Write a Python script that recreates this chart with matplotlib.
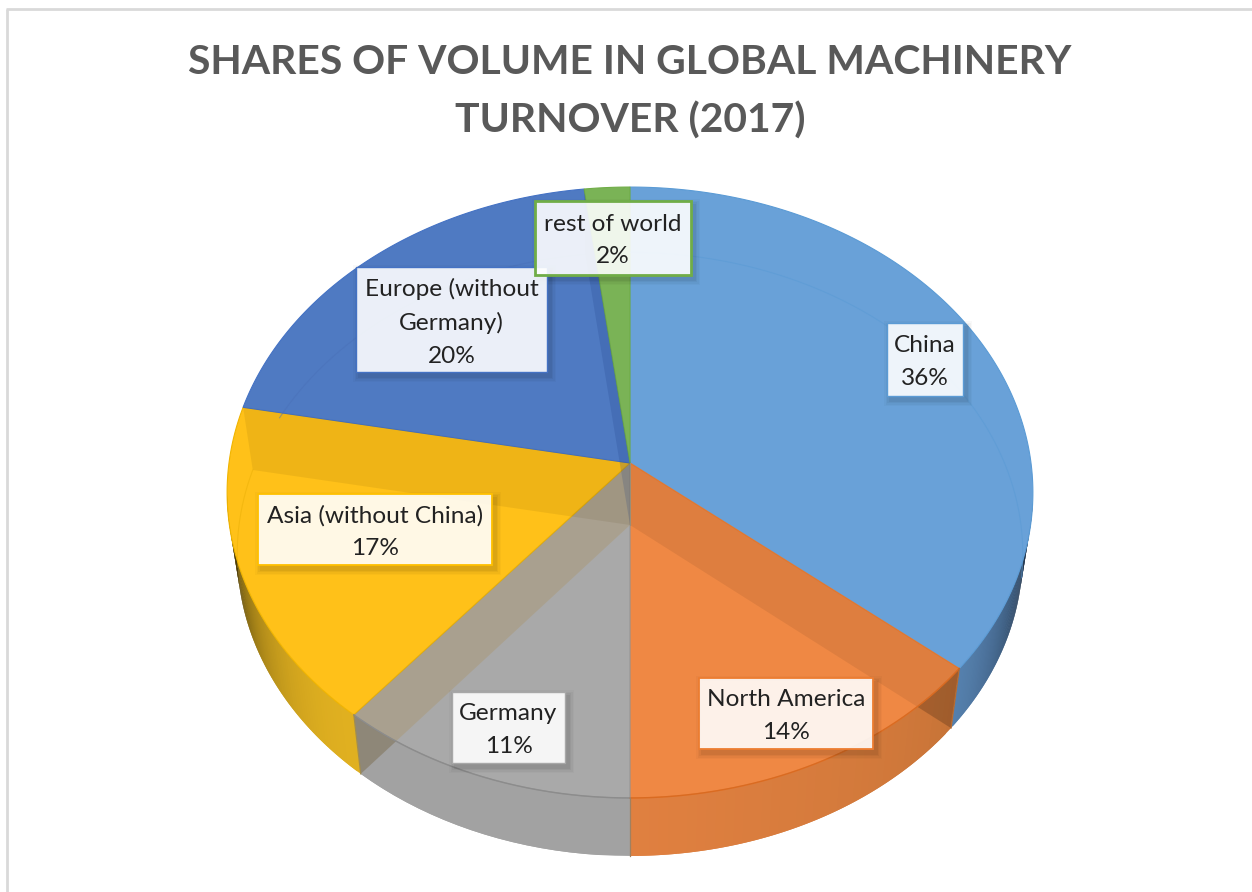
import numpy as np
import matplotlib
matplotlib.use("Agg")
import matplotlib.pyplot as plt
from matplotlib.patches import Polygon, Rectangle, PathPatch
from matplotlib.path import Path
from matplotlib.colors import to_rgb

title_text = "SHARES OF VOLUME IN GLOBAL MACHINERY\nTURNOVER (2017)"
names = ["China", "North America", "Germany", "Asia (without China)", "Europe (without\nGermany)", "rest of world"]
shares = [36, 14, 11, 17, 20, 2]
top_colors = ["#69A1D8", "#EF8844", "#A9A9A9", "#FFC119", "#4F7AC2", "#7AB356"]
edge_colors = ["#5B9BD5", "#ED7D31", "#A8A8A8", "#FFC000", "#4472C4", "#70AD47"]
wedge_edges = ["#5B9BD5", "#ED7D31", "#979797", "#F0B400", "#4472C4", "#70AD47"]

# label-box geometry in pixels: left, right, top, bottom
boxes = [(887, 963, 323, 396), (699, 873, 678, 749), (452, 565, 692, 763),
         (258, 492, 494, 565), (356, 547, 267, 372), (535, 691, 201, 275)]
box_lw = [1.0, 1.3, 1.0, 1.3, 1.0, 2.0]

plt.rcParams['font.family'] = ['Lato', 'DejaVu Sans']
fig = plt.figure(figsize=(12.52, 8.92), dpi=100)
ax = fig.add_axes([0, 0, 1, 1])
ax.set_xlim(0, 1252)
ax.set_ylim(892, 0)
ax.axis('off')

K, A, B = -0.0966, 401.0, 302.6
TOP = (630.0, 463.0, 1.0, 1.0)
LOW = (630.0, 525.0, 0.975, 0.988)


def proj(deg, level):
    cx, cy, sx, sy = level
    t = np.radians(deg)
    u, v = np.sin(t), np.cos(t)
    d = 1 - K * v
    return cx + sx * A * u / d, cy - sy * B * v / d


def arc(a, b, level, n=160):
    x, y = proj(np.linspace(a, b, n), level)
    return np.column_stack([x, y])


def mix(c1, c2, f):
    c1, c2 = np.array(to_rgb(c1)), np.array(to_rgb(c2))
    return tuple(c1 + (c2 - c1) * f)


edges = np.concatenate([[0], np.cumsum(shares)]) * 3.6
apex = np.array([TOP[0], TOP[1]])
low_apex = np.array([LOW[0], LOW[1]])

# outer frame
ax.plot([7, 7], [892, 9], color="#D9D9D9", lw=2.0, solid_capstyle='butt')
ax.plot([6, 1252], [9, 9], color="#D9D9D9", lw=2.0, solid_capstyle='butt')


def side_strip(a, b, c1, c2, n=70, gamma=1.0):
    ts = np.linspace(a, b, n + 1)
    for i in range(n):
        f = ((i + .5) / n) ** gamma
        end = ts[min(i + 2, n)]
        poly = np.vstack([arc(ts[i], end, TOP, 5), arc(end, ts[i], LOW, 5)])
        ax.add_patch(Polygon(poly, closed=True, fc=mix(c1, c2, f), ec='none', zorder=1))


# visible outer walls
side_strip(edges[1], 98, "#5580AD", "#1F2E42", gamma=1.3)
side_strip(edges[1], edges[2], "#C47236", "#E08040", n=40, gamma=.6)
side_strip(edges[2], edges[3], "#A2A2A2", "#A2A2A2", n=10)
side_strip(edges[3], 264, "#E0B020", "#2E2608", gamma=2.0)

# top faces
for i, c in enumerate(top_colors):
    poly = np.vstack([apex, arc(edges[i], edges[i + 1], TOP)])
    ax.add_patch(Polygon(poly, closed=True, fc=c, ec=wedge_edges[i], lw=0.8, zorder=2))

front = np.vstack([arc(edges[1], edges[3], TOP), arc(edges[3], edges[1], LOW)])

# inner radial walls seen through the surface
walls = [(1, "#000000", .07), (3, "#A9905A", .32), (4, "#4A3000", .085), (5, "#1A3A80", .18)]
for idx, col, alpha in walls:
    t = edges[idx]
    poly = np.vstack([apex, np.array(proj(t, TOP)), np.array(proj(t, LOW)), low_apex])
    ax.add_patch(Polygon(poly, closed=True, fc=col, ec='none', alpha=alpha, zorder=3))
    if idx in (1, 3):
        over = Polygon(poly, closed=True, fc='#000000', ec='none', alpha=.13, zorder=3.1)
        ax.add_patch(over)
        over.set_clip_path(Polygon(front, closed=True, transform=ax.transData))

# faint rim of the lower surface through the top
for a, b, c, al in [(0, 100, "#5B9BD5", .6), (edges[4], 262, "#E0A800", .35), (edges[4] + 11, edges[5], "#4A70B8", .5)]:
    xy = arc(a, b, LOW)
    ax.plot(xy[:, 0], xy[:, 1], color=c, lw=0.8, alpha=al, zorder=3.2)

# front rim of the top surface and vertical seams
for i, c in [(1, "#D96B22"), (2, "#8C8C8C")]:
    xy = arc(edges[i], edges[i + 1], TOP)
    ax.plot(xy[:, 0], xy[:, 1], color=c, lw=1.0, zorder=3.3)
for t, c in [(edges[1], "#B56A30"), (edges[3], "#A08C50")]:
    a, b = proj(t, TOP), proj(t, LOW)
    ax.plot([a[0], b[0]], [a[1], b[1]], color=c, lw=0.9, zorder=3.3)
a, b = proj(edges[2], TOP), proj(edges[2], LOW)
ax.plot([a[0], b[0]], [a[1], b[1]], color="#A08060", lw=0.9, zorder=3.3)
ax.plot([630, 630], [463, 525], color="#9A8F78", lw=0.7, zorder=3.3)

# data labels
for i, (name, v) in enumerate(zip(names, shares)):
    l, r, t, b = boxes[i]
    inner = Path([(l, t), (l, b), (r, b), (r, t), (l, t)], closed=True)
    for grow, al in [(6, .025), (4.5, .03), (3, .04), (1.5, .05)]:
        x0, x1, y0, y1 = l + 3 - grow, r + 3 + grow, t + 4 - grow, b + 4 + grow
        outer = Path([(x0, y0), (x1, y0), (x1, y1), (x0, y1), (x0, y0)], closed=True)
        ax.add_patch(PathPatch(Path.make_compound_path(outer, inner), fc='#000000', ec='none', alpha=al, zorder=4))
    ax.add_patch(Rectangle((l, t), r - l, b - t, fc=(1, 1, 1, .89), ec=edge_colors[i], lw=box_lw[i], zorder=5))
    ax.text((l + r) / 2, (t + b) / 2 + 2.5, f"{name}\n{v}%", ha='center', va='center', fontsize=17.6,
            color="#222222", linespacing=1.68, zorder=6)

ax.set_title(title_text, x=630 / 1252, y=1 - 100 / 892, va='center', ha='center', fontsize=29.4,
             fontweight='bold', color="#595959", linespacing=1.65)

fig.savefig("out.png", dpi=100, facecolor='white')
